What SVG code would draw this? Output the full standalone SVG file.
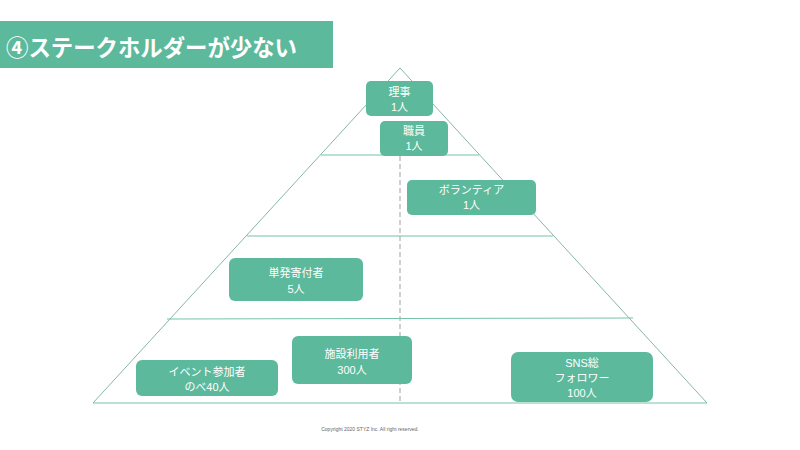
<svg xmlns="http://www.w3.org/2000/svg" width="800" height="450" viewBox="0 0 800 450">
<style>
.box{fill:#5cb99c}
.t{font-family:"Liberation Sans","Noto Sans CJK JP",sans-serif;font-size:11px;fill:#ffffff;text-anchor:middle}
.edge{stroke:#86b5aa;stroke-width:1;fill:none}
.tier{stroke:#74c2ab;stroke-width:1;fill:none}
</style>
<rect width="800" height="450" fill="#ffffff"/>
<g id="title">
<rect x="0" y="21" width="333" height="47" fill="#5cb99c"/>
<text x="6" y="56" font-family="'Noto Sans CJK JP',sans-serif" font-size="23" font-weight="bold" fill="#ffffff" textLength="291" lengthAdjust="spacingAndGlyphs">④ステークホルダーが少ない</text>
</g>
<g id="connectors">
<polyline class="edge" points="93,403 400,68 707,403"/>
<line class="tier" x1="93" y1="403" x2="707" y2="403"/>
<line class="tier" x1="321" y1="155" x2="479" y2="155"/>
<line class="tier" x1="247" y1="236" x2="553" y2="236"/>
<line class="tier" x1="167" y1="319" x2="633" y2="318"/>
<line x1="400" y1="156" x2="400" y2="403" stroke="#a0a0a0" stroke-width="1" stroke-dasharray="5,3"/>
</g>
<g id="n1"><rect class="box" x="366" y="81" width="67" height="35" rx="5"/><text class="t" x="399.5" y="96">理事</text><text class="t" x="399.5" y="111">1人</text></g>
<g id="n2"><rect class="box" x="380" y="121" width="68" height="35" rx="5"/><text class="t" x="414" y="135">職員</text><text class="t" x="414" y="150">1人</text></g>
<g id="n3"><rect class="box" x="407" y="180" width="129" height="35" rx="5"/><text class="t" x="471.5" y="194">ボランティア</text><text class="t" x="471.5" y="209">1人</text></g>
<g id="n4"><rect class="box" x="229" y="258" width="134" height="43" rx="6"/><text class="t" x="296" y="277">単発寄付者</text><text class="t" x="296" y="293">5人</text></g>
<g id="n5"><rect class="box" x="292" y="336" width="120" height="48" rx="6"/><text class="t" x="352" y="358">施設利用者</text><text class="t" x="352" y="374">300人</text></g>
<g id="n6"><rect class="box" x="136" y="360" width="142" height="36" rx="6"/><text class="t" x="207" y="376">イベント参加者</text><text class="t" x="207" y="391">のべ40人</text></g>
<g id="n7"><rect class="box" x="511" y="352" width="142" height="50" rx="7"/><text class="t" x="582" y="367">SNS総</text><text class="t" x="582" y="382">フォロワー</text><text class="t" x="582" y="397">100人</text></g>
<text x="370" y="431" font-family="'Liberation Sans',sans-serif" font-size="5" fill="#666666" text-anchor="middle">Copyright 2020 STYZ Inc. All right reserved.</text>
</svg>
